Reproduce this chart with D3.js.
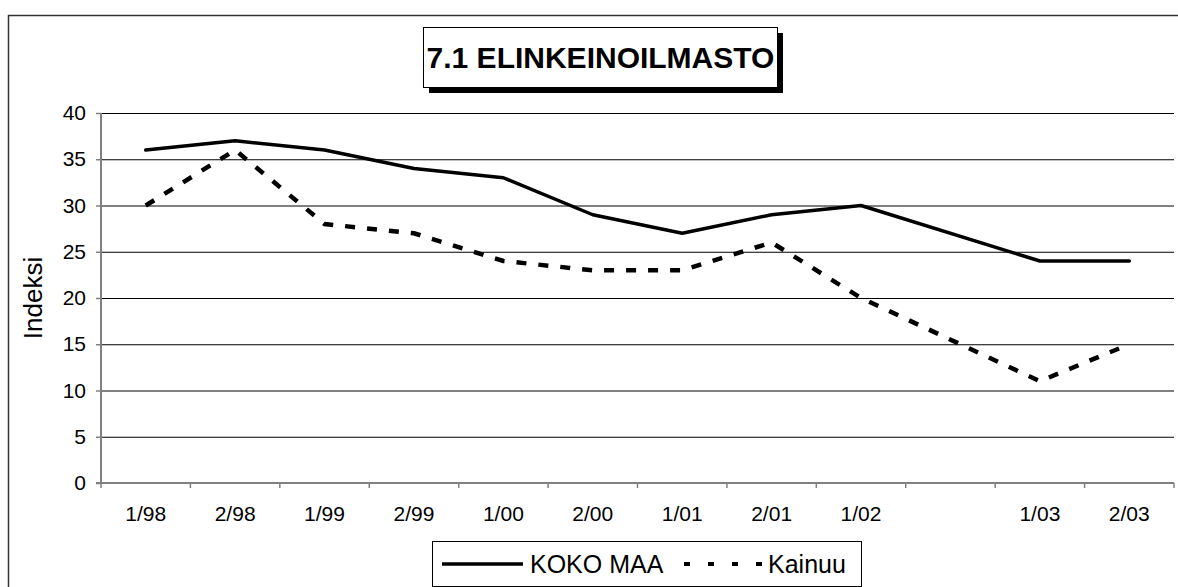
<!DOCTYPE html>
<html>
<head>
    <title>7.1 Elinkeinoilmasto</title>
    <style>
        body {
            margin: 0;
            background: #fff;
        }
        svg text {
            font-family: "Liberation Sans", Arial, sans-serif;
            fill: #000;
        }
    </style>
</head>
<body>
<svg class="chart" width="1178" height="587"></svg>
<script src="https://cdn.jsdelivr.net/npm/d3@7"></script>
<script>
    // chart data (null = no value, line joins across)
    var categories = ["1/98", "2/98", "1/99", "2/99", "1/00", "2/00", "1/01", "2/01", "1/02", "", "1/03", "2/03"];
    var kokoMaa = [36, 37, 36, 34, 33, 29, 27, 29, 30, null, 24, 24];
    var kainuu = [30, 36, 28, 27, 24, 23, 23, 26, 20, null, 11, 15];
    var yTicks = [0, 5, 10, 15, 20, 25, 30, 35, 40];
    var seriesNames = ["KOKO MAA", "Kainuu"];

    var svg = d3.select(".chart");
    var plot = { left: 101, right: 1174, top: 113, bottom: 483 };
    var font = "Liberation Sans, Arial, sans-serif";

    // outer frame
    svg.append("rect")
        .attr("x", 8.5).attr("y", 15.5)
        .attr("width", 1200).attr("height", 620)
        .attr("fill", "#fff")
        .attr("stroke", "#333")
        .attr("stroke-width", 1.5);

    var x = d3.scaleBand()
        .domain(categories)
        .range([plot.left, plot.right]);

    var y = d3.scaleLinear()
        .domain([0, 40])
        .range([plot.bottom, plot.top]);

    // gridlines
    svg.append("g")
        .selectAll("line")
        .data(yTicks.filter(function (d) { return d > 0; }))
        .join("line")
        .attr("x1", plot.left).attr("x2", plot.right)
        .attr("y1", function (d) { return y(d) + 0.5; })
        .attr("y2", function (d) { return y(d) + 0.5; })
        .attr("stroke", "#000")
        .attr("stroke-width", 1);

    // y axis
    var yAxis = svg.append("g")
        .attr("transform", "translate(" + plot.left + ",0)")
        .call(d3.axisLeft(y).tickValues(yTicks).tickSize(5).tickPadding(10));
    yAxis.select(".domain").remove();
    yAxis.selectAll(".tick line").attr("stroke", "#808080").attr("stroke-width", 1.5);
    yAxis.selectAll("text").attr("font-size", 21).attr("font-family", font);
    svg.append("line")
        .attr("x1", plot.left).attr("x2", plot.left)
        .attr("y1", plot.top).attr("y2", plot.bottom)
        .attr("stroke", "#808080").attr("stroke-width", 2);

    // x axis: labels centred in bands, ticks on the band edges
    var xAxis = svg.append("g")
        .attr("transform", "translate(0," + plot.bottom + ")")
        .call(d3.axisBottom(x).tickSize(0).tickPadding(23));
    xAxis.select(".domain").remove();
    xAxis.selectAll("text").attr("font-size", 21).attr("font-family", font);

    svg.append("g")
        .selectAll("line")
        .data(d3.range(categories.length + 1))
        .join("line")
        .attr("x1", function (i) { return plot.left + i * x.step(); })
        .attr("x2", function (i) { return plot.left + i * x.step(); })
        .attr("y1", plot.bottom).attr("y2", plot.bottom + 5)
        .attr("stroke", "#808080").attr("stroke-width", 1.5);
    svg.append("line")
        .attr("x1", plot.left - 5).attr("x2", plot.right)
        .attr("y1", plot.bottom).attr("y2", plot.bottom)
        .attr("stroke", "#808080").attr("stroke-width", 2);

    // y axis title
    svg.append("text")
        .attr("transform", "translate(42," + ((plot.top + plot.bottom) / 2) + ") rotate(-90)")
        .attr("text-anchor", "middle")
        .attr("font-size", 26)
        .text("Indeksi");

    // lines
    var line = d3.line()
        .x(function (d) { return x(d.c) + x.bandwidth() / 2; })
        .y(function (d) { return y(d.v); });

    function points(values) {
        return values.map(function (v, i) { return { c: categories[i], v: v }; })
            .filter(function (d) { return d.v != null; });
    }

    svg.append("path")
        .datum(points(kainuu))
        .attr("d", line)
        .attr("fill", "none")
        .attr("stroke", "#000")
        .attr("stroke-width", 4.5)
        .attr("stroke-dasharray", "10,12");

    svg.append("path")
        .datum(points(kokoMaa))
        .attr("d", line)
        .attr("fill", "none")
        .attr("stroke", "#000")
        .attr("stroke-width", 3.5)
        .attr("stroke-linejoin", "round")
        .attr("stroke-linecap", "round");

    // title box with shadow
    var title = { x: 423, y: 27, w: 354, h: 60 };
    svg.append("rect")
        .attr("x", title.x + 6).attr("y", title.y + 6)
        .attr("width", title.w).attr("height", title.h)
        .attr("fill", "#000");
    svg.append("rect")
        .attr("x", title.x + 0.5).attr("y", title.y + 0.5)
        .attr("width", title.w).attr("height", title.h)
        .attr("fill", "#fff").attr("stroke", "#000");
    svg.append("text")
        .attr("x", title.x + title.w / 2 + 0.5)
        .attr("y", title.y + 40.5)
        .attr("text-anchor", "middle")
        .attr("font-size", 30)
        .attr("font-weight", "bold")
        .text("7.1 ELINKEINOILMASTO");

    // legend
    var legend = svg.append("g");
    legend.append("rect")
        .attr("x", 432.5).attr("y", 541.5)
        .attr("width", 429).attr("height", 45)
        .attr("fill", "#fff").attr("stroke", "#000");
    legend.append("line")
        .attr("x1", 442).attr("x2", 523)
        .attr("y1", 564).attr("y2", 564)
        .attr("stroke", "#000").attr("stroke-width", 3.5);
    legend.append("text")
        .attr("x", 530).attr("y", 573)
        .attr("font-size", 25)
        .text(seriesNames[0]);
    legend.append("line")
        .attr("x1", 684).attr("x2", 764)
        .attr("y1", 564).attr("y2", 564)
        .attr("stroke", "#000").attr("stroke-width", 4)
        .attr("stroke-dasharray", "6,18");
    legend.append("text")
        .attr("x", 768).attr("y", 573)
        .attr("font-size", 25)
        .text(seriesNames[1]);
</script>
</body>
</html>
